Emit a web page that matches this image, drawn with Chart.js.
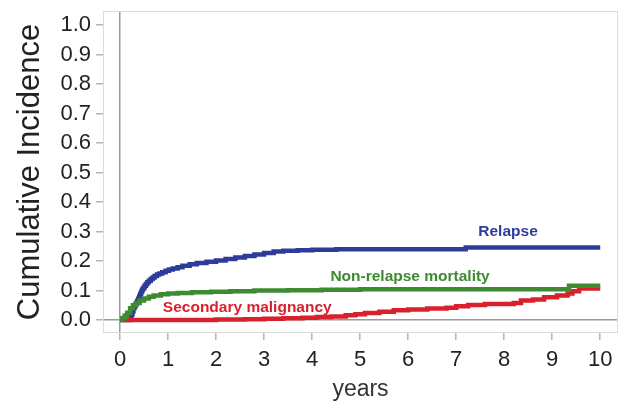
<!DOCTYPE html>
<html>
<head>
<meta charset="utf-8">
<script src="https://cdn.jsdelivr.net/npm/chart.js@4.4.1/dist/chart.umd.min.js"></script>
<style>
  html, body { margin: 0; padding: 0; background: #fff; }
  canvas { display: block; }
</style>
</head>
<body>
<canvas id="chart" width="626" height="406"></canvas>
<script>
// --- data (years, cumulative incidence) ---
const xTicks = [0, 1, 2, 3, 4, 5, 6, 7, 8, 9, 10];
const yTicks = [0, 0.1, 0.2, 0.3, 0.4, 0.5, 0.6, 0.7, 0.8, 0.9, 1.0];

const relapseYears = [0, 0.21, 0.22, 0.24, 0.26, 0.28, 0.30, 0.32, 0.34, 0.36, 0.38, 0.40, 0.42, 0.44, 0.46, 0.48, 0.51, 0.54, 0.57, 0.60, 0.64, 0.68, 0.72, 0.77, 0.82, 0.88, 0.95, 1.02, 1.1, 1.2, 1.3, 1.45, 1.6, 1.8, 2.0, 2.2, 2.4, 2.6, 2.8, 3.0, 3.2, 3.4, 3.7, 4.0, 4.5, 7.2, 10];
const relapseValues = [0, 0, 0.01, 0.02, 0.03, 0.04, 0.046, 0.052, 0.058, 0.065, 0.072, 0.08, 0.088, 0.096, 0.103, 0.109, 0.116, 0.122, 0.128, 0.133, 0.139, 0.144, 0.149, 0.154, 0.158, 0.162, 0.167, 0.171, 0.175, 0.179, 0.184, 0.189, 0.193, 0.198, 0.202, 0.207, 0.212, 0.217, 0.222, 0.227, 0.232, 0.235, 0.237, 0.238, 0.24, 0.246, 0.246];

const nrmYears = [0, 0.05, 0.1, 0.15, 0.21, 0.27, 0.33, 0.41, 0.5, 0.6, 0.7, 0.85, 1.0, 1.2, 1.5, 1.9, 2.3, 2.8, 3.5, 4.2, 5.0, 9.35, 10];
const nrmValues = [0, 0.007, 0.015, 0.025, 0.04, 0.05, 0.058, 0.066, 0.073, 0.079, 0.083, 0.087, 0.09, 0.092, 0.094, 0.096, 0.098, 0.1, 0.101, 0.103, 0.104, 0.116, 0.116];

const smYears = [0.05, 2.0, 2.6, 3.0, 3.4, 3.8, 4.1, 4.4, 4.7, 4.9, 5.1, 5.4, 5.7, 6.0, 6.4, 6.8, 7.0, 7.25, 7.6, 8.2, 8.35, 8.6, 8.83, 9.1, 9.32, 9.42, 9.56, 10];
const smValues = [0, 0.002, 0.003, 0.004, 0.006, 0.008, 0.01, 0.012, 0.016, 0.02, 0.024, 0.028, 0.033, 0.036, 0.039, 0.042, 0.047, 0.051, 0.054, 0.058, 0.066, 0.07, 0.077, 0.083, 0.09, 0.098, 0.107, 0.107];

const BLUE = '#2d3c99';
const GREEN = '#3d8a30';
const RED = '#d9202d';
const FONT = "'Liberation Sans', Arial, sans-serif";

function toPoints(xs, ys) {
    return xs.map((x, i) => ({ x: x, y: ys[i] }));
}

// curve labels, anchored in data units
const curveLabels = [
    { text: 'Relapse', x: 8.08, y: 0.299, color: BLUE },
    { text: 'Non-relapse mortality', x: 6.04, y: 0.146, color: GREEN },
    { text: 'Secondary malignancy', x: 2.65, y: 0.042, color: RED }
];

const boxAndLabels = {
    id: 'boxAndLabels',
    beforeDatasetsDraw(chart) {
        const { ctx, chartArea: a } = chart;
        ctx.save();
        ctx.strokeStyle = '#dcdcdc';
        ctx.lineWidth = 1;
        ctx.strokeRect(a.left + 0.5, a.top + 0.5, a.right - a.left - 1, a.bottom - a.top - 1);
        ctx.restore();
    },
    afterDatasetsDraw(chart) {
        const { ctx, scales } = chart;
        ctx.save();
        ctx.font = "bold 15.5px " + FONT;
        ctx.textAlign = 'center';
        ctx.textBaseline = 'middle';
        curveLabels.forEach(l => {
            ctx.fillStyle = l.color;
            ctx.fillText(l.text, scales.x.getPixelForValue(l.x), scales.y.getPixelForValue(l.y));
        });
        ctx.restore();
    }
};

const lineStyle = {
    borderWidth: 4.5,
    pointRadius: 0,
    stepped: true,
    fill: false
};

new Chart(document.getElementById('chart'), {
    type: 'line',
    data: {
        datasets: [
            Object.assign({ label: 'Non-relapse mortality', data: toPoints(nrmYears, nrmValues), borderColor: GREEN, order: 0 }, lineStyle),
            Object.assign({ label: 'Secondary malignancy', data: toPoints(smYears, smValues), borderColor: RED, order: 1 }, lineStyle),
            Object.assign({ label: 'Relapse', data: toPoints(relapseYears, relapseValues), borderColor: BLUE, order: 2 }, lineStyle)
        ]
    },
    options: {
        responsive: false,
        animation: false,
        devicePixelRatio: 1,
        layout: { padding: { top: 11, right: 8, left: 0, bottom: 0 } },
        plugins: { legend: { display: false }, tooltip: { enabled: false } },
        scales: {
            x: {
                type: 'linear',
                min: -0.354,
                max: 10.37,
                afterBuildTicks: axis => { axis.ticks = xTicks.map(v => ({ value: v })); },
                afterFit: axis => {
                    axis.height = 73;
                    axis.paddingLeft = 0;
                    axis.paddingRight = 0;
                },
                border: { display: false },
                grid: {
                    drawOnChartArea: true,
                    color: c => (c.tick && c.tick.value === 0) ? '#9a9a9a' : 'rgba(0,0,0,0)',
                    tickColor: '#b5b5b5',
                    tickLength: 7,
                    lineWidth: 1.5
                },
                ticks: {
                    color: '#222',
                    font: { family: FONT, size: 22 },
                    padding: 7,
                    maxRotation: 0,
                    callback: v => String(v)
                },
                title: {
                    display: true,
                    text: 'years',
                    color: '#333',
                    font: { family: FONT, size: 23 },
                    padding: { top: 0, bottom: 3 }
                }
            },
            y: {
                type: 'linear',
                min: -0.044,
                max: 1.048,
                afterBuildTicks: axis => { axis.ticks = yTicks.map(v => ({ value: v })); },
                afterFit: axis => {
                    axis.width = 103;
                    axis.paddingTop = 0;
                    axis.paddingBottom = 0;
                },
                border: { display: false },
                grid: {
                    drawOnChartArea: true,
                    color: c => (c.tick && c.tick.value === 0) ? '#9a9a9a' : 'rgba(0,0,0,0)',
                    tickColor: '#b5b5b5',
                    tickLength: 7,
                    lineWidth: 1.5
                },
                ticks: {
                    color: '#222',
                    font: { family: FONT, size: 22 },
                    padding: 5,
                    callback: v => v.toFixed(1)
                },
                title: {
                    display: true,
                    text: 'Cumulative Incidence',
                    color: '#222',
                    font: { family: FONT, size: 31 },
                    padding: { top: 12, bottom: 0 }
                }
            }
        }
    },
    plugins: [boxAndLabels]
});
</script>
</body>
</html>
